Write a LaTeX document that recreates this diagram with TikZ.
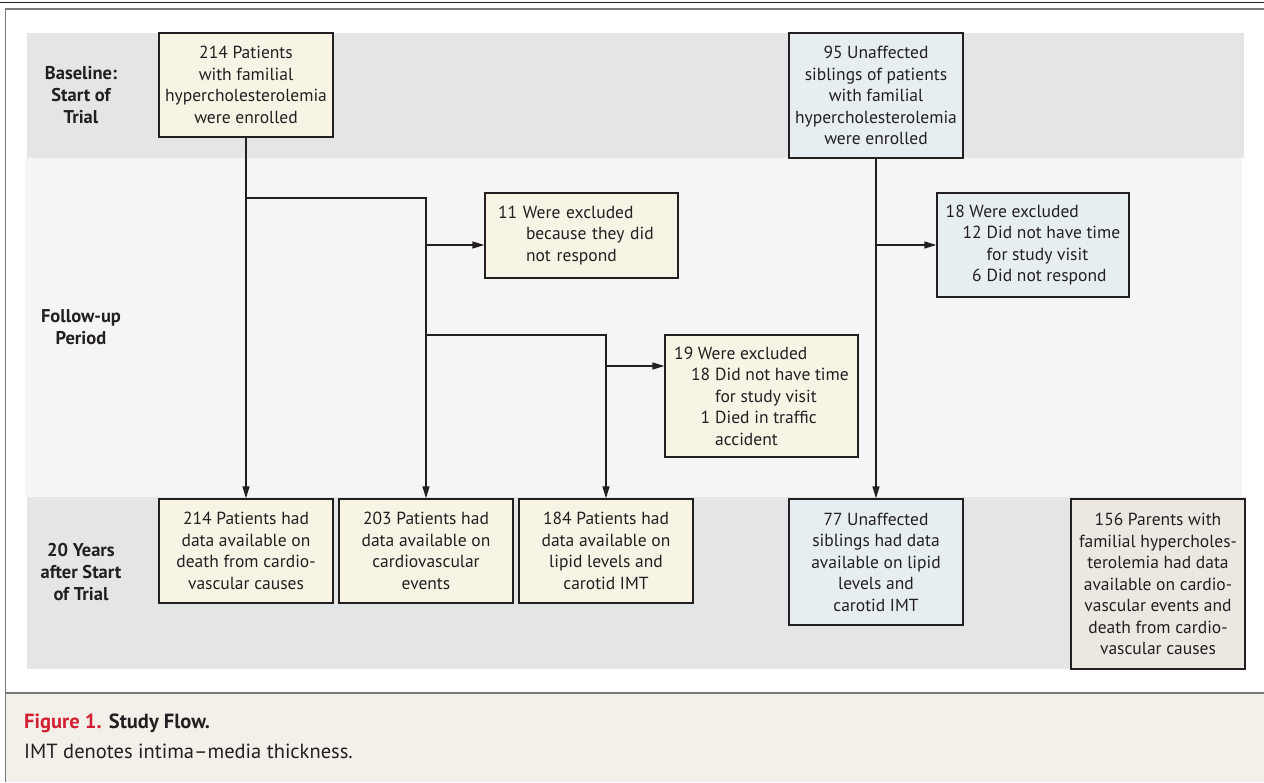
\documentclass[tikz,border=0pt]{standalone}
\usepackage{fontspec}
\setmainfont{PT Sans}
\usetikzlibrary{arrows.meta}
\definecolor{cream}{HTML}{F7F4E6}
\definecolor{sky}{HTML}{E7EEF2}
\definecolor{taupe}{HTML}{ECE8E1}
\definecolor{bandA}{HTML}{E4E5E7}
\definecolor{bandB}{HTML}{F5F5F5}
\definecolor{capbg}{HTML}{F3F0EA}
\definecolor{ink}{HTML}{231F20}
\definecolor{nejmred}{HTML}{D21F33}
\definecolor{rulegray}{HTML}{7A7A7A}
\newcommand\fs{\fontsize{17.5}{21.5}\selectfont}
\newcommand\lfs{\fontsize{18.5}{22}\selectfont}
\newcommand\cfs{\fontsize{20.5}{24}\selectfont}
\newcommand\numln[2]{\hspace*{18pt}\makebox[23pt][r]{#1\hspace{5pt}}#2}
\tikzset{
  box/.style={draw=ink, line width=1.3pt, inner sep=0pt, align=center, font=\fs, text=ink},
  lbl/.style={font=\lfs\bfseries, align=center, text=ink},
  conn/.style={draw=ink, line width=1.3pt},
  arr/.style={conn, -{Triangle[length=12pt,width=7pt]}},
  captxt/.style={anchor=base west, font=\cfs, text=ink, inner sep=0pt},
}
\begin{document}
\begin{tikzpicture}[x=1pt,y=-1pt]
\useasboundingbox (0,0) rectangle (1264,782);
% backgrounds
\fill[white] (0,0) rectangle (1264,782);
\fill[bandA] (27,33) rectangle (1244,158);
\fill[bandB] (25,158) rectangle (1242,497);
\fill[bandA] (27,497) rectangle (1246,669);
\fill[capbg] (6,694) rectangle (1264,782);
% frame rules
\draw[ink, line width=1.5pt] (0,2.5) -- (1264,2.5);
\draw[rulegray, line width=2pt] (5,9) -- (1264,9);
\draw[rulegray, line width=1.6pt] (5.5,8) -- (5.5,782);
\draw[rulegray, line width=2pt] (5,693) -- (1264,693);
% row labels
\node[lbl] (l1) at (81,95) {Baseline:\\Start of\\Trial};
\node[lbl] (l2) at (81,327) {Follow-up\\Period};
\node[lbl] (l3) at (81,572) {20 Years\\after Start\\of Trial};
% boxes
\node[box, fill=cream, minimum width=174pt, minimum height=104pt] (A) at (246,85)
  {214 Patients\\with familial\\hypercholesterolemia\\were enrolled};
\node[box, fill=sky, minimum width=174pt, minimum height=125pt] (B) at (876,95.5)
  {95 Unaffected\\siblings of patients\\with familial\\hypercholesterolemia\\were enrolled};
\node[box, fill=cream, minimum width=193pt, minimum height=85pt, text width=167pt, align=left] (C) at (581.5,235.5)
  {11 Were excluded\\\hspace*{28pt}because they did\\\hspace*{28pt}not respond};
\node[box, fill=cream, minimum width=193pt, minimum height=122pt, align=left] (D) at (761.5,396)
  {19 Were excluded\\\numln{18}{Did not have time}\\\hspace*{41pt}for study visit\\\numln{1}{Died in traffic}\\\hspace*{41pt}accident};
\node[box, fill=sky, minimum width=192pt, minimum height=104pt, align=left] (E) at (1033,245)
  {18 Were excluded\\\numln{12}{Did not have time}\\\hspace*{41pt}for study visit\\\numln{6}{Did not respond}};
\node[box, fill=cream, minimum width=174pt, minimum height=104pt] (F1) at (246,551)
  {214 Patients had\\data available on\\death from cardio-\\vascular causes};
\node[box, fill=cream, minimum width=174pt, minimum height=104pt] (F2) at (426,551)
  {203 Patients had\\data available on\\cardiovascular\\events};
\node[box, fill=cream, minimum width=174pt, minimum height=104pt] (F3) at (606,551)
  {184 Patients had\\data available on\\lipid levels and\\carotid IMT};
\node[box, fill=sky, minimum width=174pt, minimum height=126pt] (F4) at (876,562)
  {77 Unaffected\\siblings had data\\available on lipid\\levels and\\carotid IMT};
\node[box, fill=taupe, minimum width=174pt, minimum height=170pt] (G) at (1158,584)
  {156 Parents with\\familial hypercholes-\\terolemia had data\\available on cardio-\\vascular events and\\death from cardio-\\vascular causes};
% connectors
\coordinate (s1) at (246,198);
\coordinate (s2) at (426,245);
\coordinate (s3) at (426,335);
\coordinate (s4) at (606,366);
\coordinate (s5) at (876,245);
\draw[arr] (A.south) -- (F1.north);
\draw[arr] (s1) -| (F2.north);
\draw[arr] (s2) -- (s2 -| C.west);
\draw[arr] (s3) -| (F3.north);
\draw[arr] (s4) -- (s4 -| D.west);
\draw[arr] (B.south) -- (F4.north);
\draw[arr] (s5) -- (E.west);
% caption
\node[captxt] (cap1) at (24,728)
  {\textbf{\color{nejmred}Figure 1.} \textbf{Study Flow.}};
\node[captxt] (cap2) at (24,758)
  {IMT denotes intima–media thickness.};
\end{tikzpicture}
\end{document}
